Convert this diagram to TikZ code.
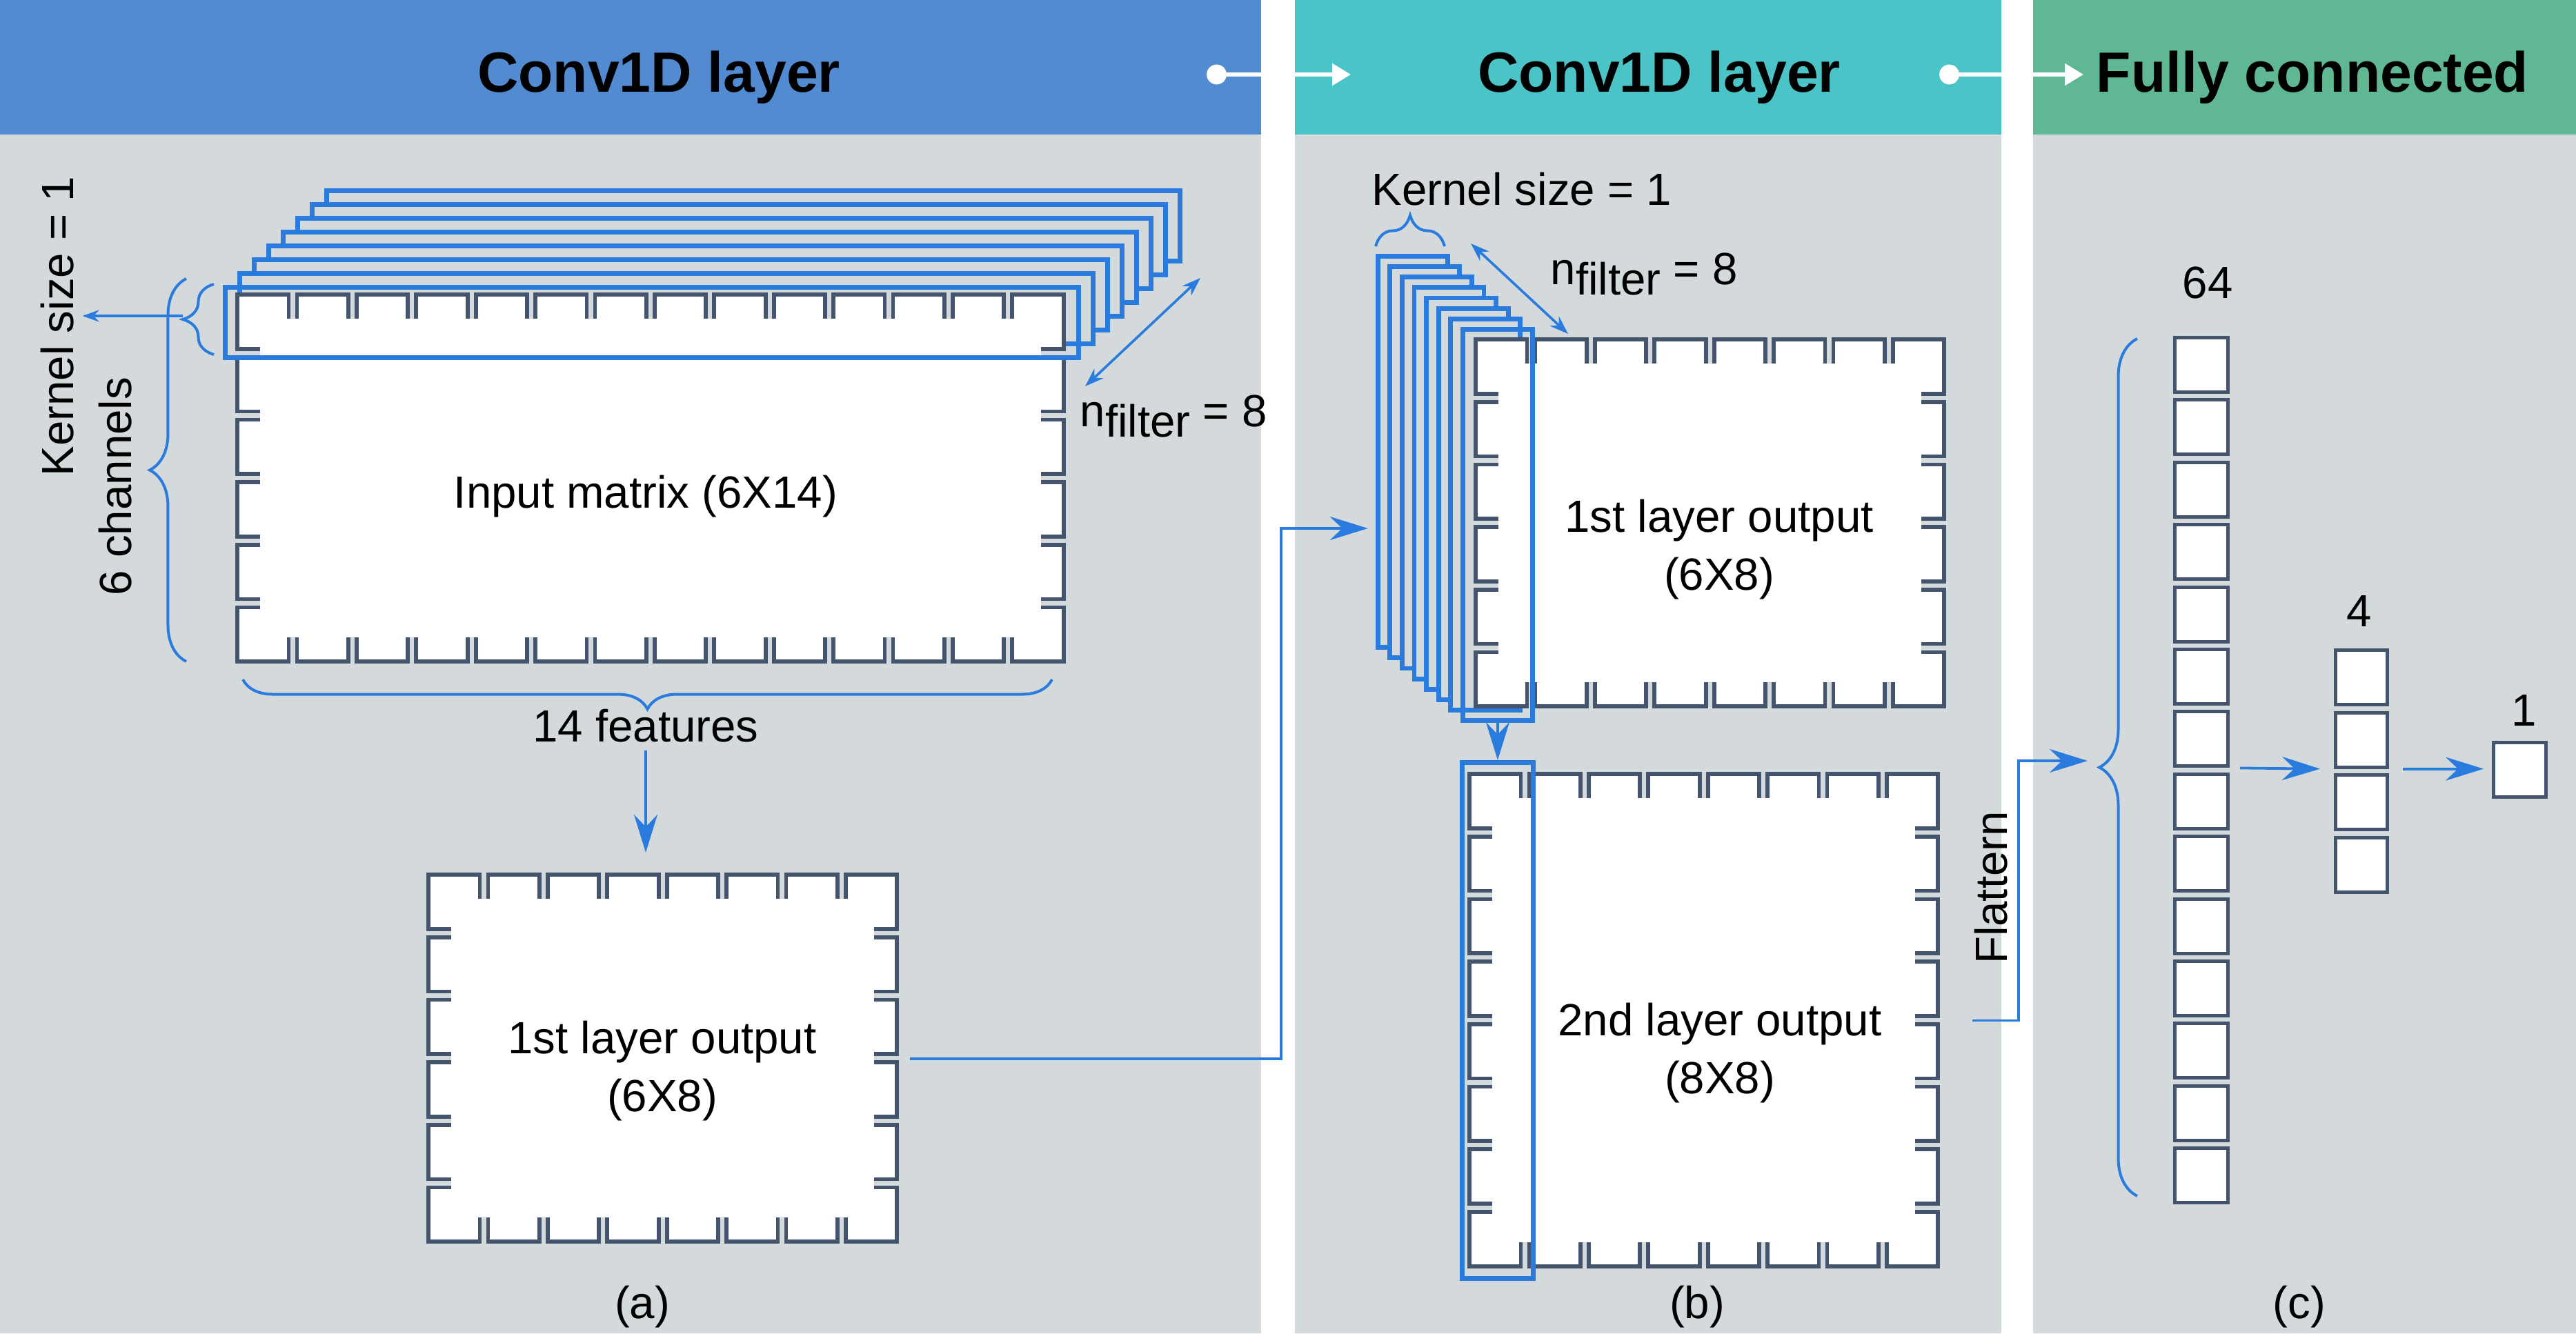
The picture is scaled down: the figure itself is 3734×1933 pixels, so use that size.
\documentclass[tikz,border=0pt]{standalone}
\usepackage{fontspec}
\setmainfont{Liberation Sans}
\usetikzlibrary{arrows.meta,positioning,calc,decorations.pathreplacing}

\definecolor{bodygray}{RGB}{212,218,219}
\definecolor{headblue}{RGB}{82,139,210}
\definecolor{headteal}{RGB}{75,196,200}
\definecolor{headgreen}{RGB}{95,183,148}
\definecolor{lineblue}{RGB}{42,123,222}
\definecolor{slate}{RGB}{68,84,108}

% matrix of cells: name, left, top, columns, rows
\newcommand{\cellmat}[5]{%
  \foreach \i in {1,...,#4}{
    \foreach \j in {1,...,#5}{
      \draw[cellline] ({#2+(\i-1)*86.4},{#3+(\j-1)*90.7}) rectangle ++(74.4,78.7);
    }
  }
  \fill[white] ({#2+33},{#3+35}) rectangle ({#2+#4*86.4-12-33},{#3+#5*90.7-12-35});
  \node[inner sep=0pt, anchor=north west, minimum width={(#4*86.4-12)*0.01cm},
        minimum height={(#5*90.7-12)*0.01cm}] (#1) at (#2,#3) {};
}

\begin{document}
\begin{tikzpicture}[
    x=0.01cm, y=-0.01cm,
    lbl/.style={font=\fontsize{18.6}{23.9}\selectfont, text=black},
    title/.style={anchor=base, font=\fontsize{23.4}{28}\selectfont\bfseries},
    cellline/.style={draw=slate, fill=white, line width=0.058cm},
    stackbox/.style={draw=lineblue, line width=0.068cm, anchor=north west, inner sep=0pt},
    unitbox/.style={draw=slate, fill=white, line width=0.05cm, anchor=north west,
        inner sep=0pt, minimum width=0.77cm, minimum height=0.79cm},
    conn/.style={draw=lineblue, line width=0.038cm, -{Stealth[length=0.55cm,width=0.34cm]}},
    dimarrow/.style={draw=lineblue, line width=0.036cm,
        {Stealth[length=0.27cm,width=0.19cm]}-{Stealth[length=0.27cm,width=0.19cm]}},
    brc/.style={draw=lineblue, line width=0.04cm, decorate},
    hlink/.style={draw=white, line width=0.06cm,
        {Circle[length=0.29cm]}-{Triangle[length=0.27cm,width=0.31cm]}}
]
\useasboundingbox (0,0) rectangle (3734,1933);

% panels
\fill[bodygray] (0,195) rectangle (1828,1933);
\fill[bodygray] (1877,195) rectangle (2901,1933);
\fill[bodygray] (2947,195) rectangle (3734,1933);
\fill[headblue] (0,0) rectangle (1828,195);
\fill[headteal] (1877,0) rectangle (2901,195);
\fill[headgreen] (2947,0) rectangle (3734,195);

% titles
\node[title] (ta) at (955,133) {Conv1D layer};
\node[title] (tb) at (2405,133) {Conv1D layer};
\node[title] (tc) at (3352,133) {Fully connected};
\coordinate (hs1) at (1749,108);
\coordinate (he1) at (1958,108);
\coordinate (hs2) at (2811,108);
\coordinate (he2) at (3020,108);
\draw[hlink] (hs1) -- (he1);
\draw[hlink] (hs2) -- (he2);

% (a) filters and input matrix
\foreach \k in {7,...,1}
  \node[stackbox, fill=bodygray, minimum width=12.36cm, minimum height=1.02cm]
    (fa\k) at ({323+21*\k},{413-20*\k}) {};
\cellmat{inmat}{344}{427}{14}{6}
\node[stackbox, minimum width=12.36cm, minimum height=1.02cm] (fa0) at (323,413) {};
\node[lbl] (inlbl) at (936,720) {Input matrix (6X14)};

\coordinate (nfa1) at (1740,403);
\coordinate (nfa2) at (1573,560);
\draw[dimarrow] (nfa1) -- (nfa2);
\node[lbl, anchor=base west, inner sep=0pt] (nfal) at (1565,618) {n\raisebox{-0.15cm}{filter} = 8};

\draw[brc, decoration={brace, amplitude=0.45cm}] (310,514) -- (310,412);
\coordinate (ktip) at (265,458);
\node[lbl, rotate=90] (ksa) at (83,473) {Kernel size = 1};
\draw[draw=lineblue, line width=0.036cm, -{Stealth[length=0.24cm,width=0.17cm]}]
  (ktip) -- (ksa.south |- ktip);
\draw[brc, decoration={brace, amplitude=0.53cm}] (270,959) -- (270,404);
\node[lbl, rotate=90] (chan) at (167,705) {6 channels};

\draw[brc, decoration={brace, amplitude=0.43cm}] (1525,985) -- (352,985);
\node[lbl] (feat) at (936,1052) {14 features};

\cellmat{m1a}{621}{1268}{8}{6}
\node[lbl, align=center] (m1al) at (960,1553) {1st layer output\\(6X8)};
\draw[conn, shorten >=0.32cm] (feat.south) -- (feat.south |- m1a.north);
\node[lbl] (capa) at (931,1895) {(a)};

% (b) filters and 1st layer output
\foreach \k in {7,...,1}
  \node[stackbox, fill=bodygray, minimum width=1.01cm, minimum height=5.67cm]
    (fb\k) at ({2117-17.6*\k},{474-15.15*\k}) {};
\cellmat{m1b}{2139}{492}{8}{6}
\node[stackbox, minimum width=1.01cm, minimum height=5.67cm] (fb0) at (2117,474) {};
\node[lbl, align=center] (m1bl) at (2492,797) {1st layer output\\(6X8)};

\draw[brc, decoration={brace, amplitude=0.45cm}] (1994,357) -- (2094,357);
\node[lbl] (ksb) at (2206,274) {Kernel size = 1};
\coordinate (nfb1) at (2132,353);
\coordinate (nfb2) at (2273,484);
\draw[dimarrow] (nfb1) -- (nfb2);
\node[lbl, anchor=base west, inner sep=0pt] (nfbl) at (2247,412) {n\raisebox{-0.15cm}{filter} = 8};

\coordinate (bend1) at (1857,766);
\draw[conn, shorten <=0.17cm, shorten >=0.11cm] (m1a.east) -| (bend1) -- (bend1 -| fb7.west);

% 2nd layer output
\cellmat{m2b}{2130}{1122}{8}{8}
\node[stackbox, minimum width=1.03cm, minimum height=7.48cm] (hb) at (2116,1102) {};
\node[lbl, align=center] (m2bl) at (2493,1527) {2nd layer output\\(8X8)};
\draw[conn] (fb0.south) -- (hb.north);
\node[lbl] (capb) at (2460,1895) {(b)};

% flatten
\node[lbl, rotate=90] (flat) at (2886,1287) {Flattern};
\coordinate (bend2) at (2926,1103);
\coordinate (fctip) at (3043,1103);
\draw[conn, shorten <=0.48cm, shorten >=0.17cm] (m2b.east) -| (bend2) -- (fctip);

% (c) dense layers
\draw[brc, decoration={brace, amplitude=0.55cm}] (3098,1734) -- (3098,491);
\foreach \r in {1,...,14}
  \node[unitbox] (d\r) at (3150,{487+(\r-1)*90.4}) {};
\foreach \r in {1,...,4}
  \node[unitbox, minimum width=0.75cm] (e\r) at (3383,{940+(\r-1)*90.6}) {};
\node[unitbox, minimum width=0.76cm] (o1) at (3612,1074) {};
\node[lbl] (n64) at (3200,410) {64};
\node[lbl] (n4) at (3420,886) {4};
\node[lbl] (n1) at (3659,1030) {1};
\draw[conn] ([xshift=0.15cm]d7.south east) -- ([xshift=-0.2cm]e2.south west);
\draw[conn] ([xshift=0.2cm]e2.south east) -- ([xshift=-0.12cm]e2.south east -| o1.west);
\node[lbl] (capc) at (3333,1895) {(c)};

\end{tikzpicture}
\end{document}
